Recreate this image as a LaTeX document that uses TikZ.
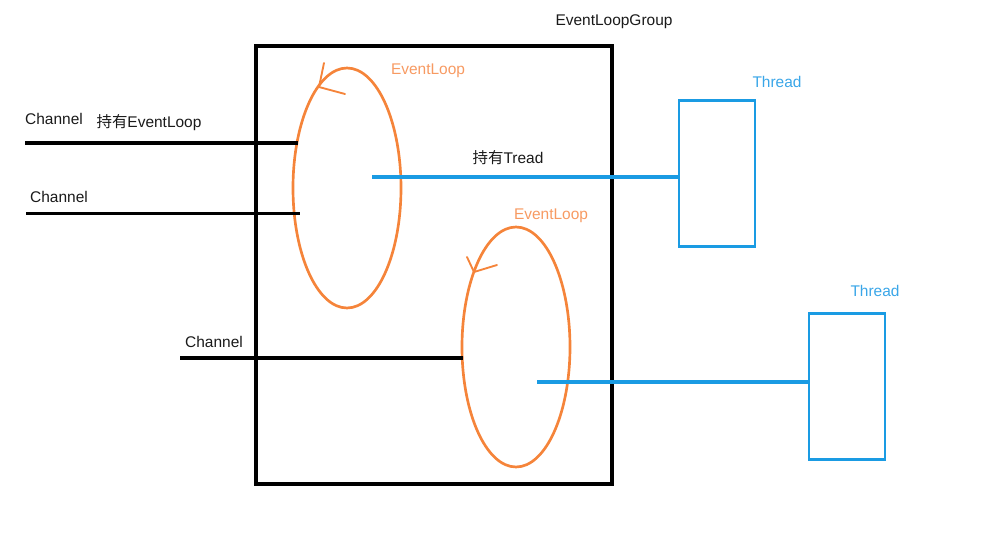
\documentclass[tikz,border=0pt]{standalone}
\usepackage{fontspec}
\setmainfont{Liberation Sans}
\newfontfamily\cjk{Noto Sans CJK SC}
\usetikzlibrary{shapes.geometric}
\definecolor{loopc}{HTML}{F5843A}
\definecolor{looptxt}{HTML}{F79A62}
\definecolor{thc}{HTML}{1A9BE3}
\definecolor{thtxt}{HTML}{3AA6E8}
\definecolor{txt}{HTML}{1A1A1A}
\begin{document}
\begin{tikzpicture}[x=0.75pt,y=-0.75pt,
  lbl/.style={font=\fontsize{11.6}{13}\selectfont,text=txt,inner sep=0pt},
  looplbl/.style={lbl,text=looptxt},
  thlbl/.style={lbl,text=thtxt},
  loop/.style={draw=loopc,line width=2pt,ellipse,minimum width=81pt,minimum height=180pt,inner sep=0pt},
  thbox/.style={draw=thc,line width=2.2pt,rectangle,minimum width=57pt,minimum height=110pt,inner sep=0pt},
  group/.style={draw=black,line width=2.3pt,rectangle,minimum width=267pt,minimum height=328.5pt,inner sep=0pt},
  chan/.style={draw=black,line width=2.4pt},
  hold/.style={draw=thc,line width=2.4pt},
  head/.style={draw=loopc,line width=1.4pt,line cap=round}]
\useasboundingbox (0,0) rectangle (1001,543);
% group box
\node[group] (grp) at (434,265) {};
\node[lbl] (grplbl) at (614,22) {EventLoopGroup};
% event loops
\node[loop] (e1) at (347,188) {};
\node[loop] (e2) at (516,347) {};
\node[looplbl] (e1lbl) at (428,71) {EventLoop};
\node[looplbl] (e2lbl) at (551,216) {EventLoop};
% arrow heads on loops
\coordinate (h1) at (319,87);
\coordinate (h1a) at (324,63);
\coordinate (h1b) at (345,94);
\draw[head] (h1a) -- (h1) -- (h1b);
\coordinate (h2) at (474,272);
\coordinate (h2a) at (467,257);
\coordinate (h2b) at (497,265);
\draw[head] (h2a) -- (h2) -- (h2b);
% threads
\node[thbox] (t1) at (717,173.5) {};
\node[thbox] (t2) at (847,386.5) {};
\node[thlbl] (t1lbl) at (777,82) {Thread};
\node[thlbl] (t2lbl) at (875,291) {Thread};
% holding lines
\coordinate (s1) at (372,177);
\draw[hold] (s1) -- (s1 -| t1.west);
\coordinate (s2) at (537,382);
\draw[hold] (s2) -- (s2 -| t2.west);
\node[lbl] (holdT) at (508,158) {{\cjk 持有}Tread};
% channels
\coordinate (c1) at (25,143);
\coordinate (c1e) at (298,143);
\draw[chan] (c1) -- (c1e);
\coordinate (c2) at (26,213.5);
\coordinate (c2e) at (300,213.5);
\draw[chan] (c2) -- (c2e);
\coordinate (c3) at (180,358);
\coordinate (c3e) at (463,358);
\draw[chan] (c3) -- (c3e);
\node[lbl] (ch1) at (54,119) {Channel};
\node[lbl] (holdE) at (149,123) {{\cjk 持有}EventLoop};
\node[lbl] (ch2) at (59,197) {Channel};
\node[lbl] (ch3) at (214,342) {Channel};
\end{tikzpicture}
\end{document}
